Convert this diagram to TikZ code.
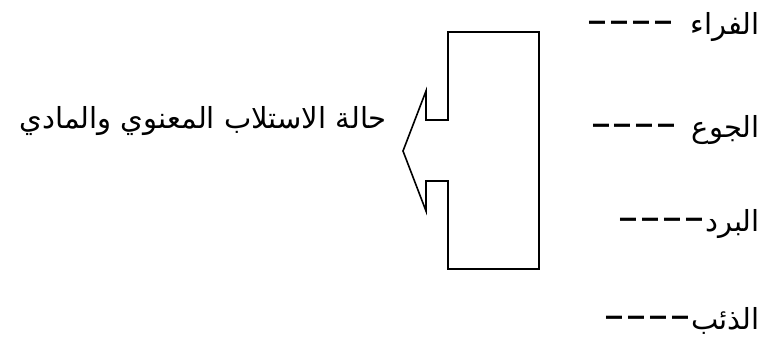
\documentclass[tikz,border=0pt]{standalone}
\usepackage{fontspec}
\newfontfamily\arabicfont[Script=Arabic]{DejaVu Sans}
\TeXXeTstate=1
\newcommand{\dsh}{\raisebox{1pt}{\scalebox{2.1}[1.35]{----}}}
\begin{document}
\begin{tikzpicture}[x=1pt,y=-1pt,
  lbl/.style={inner sep=0pt,font=\arabicfont\fontsize{29}{34}\selectfont},
  frame/.style={draw=black,line width=1.6pt,line join=miter}]
\useasboundingbox (0,0) rectangle (768,340);
\node[lbl,anchor=base east] (t1) at (760,34) {\dsh\hspace{16pt}\beginR الفراء\endR};
\node[lbl,anchor=base east] (t2) at (760,137) {\dsh\hspace{14pt}\beginR الجوع\endR};
\node[lbl,anchor=base east] (t3) at (760,231) {\dsh\beginR البرد\endR};
\node[lbl,anchor=base east] (t4) at (760,329) {\dsh\beginR الذئب\endR};
\node[lbl,anchor=base east] (main) at (387,128) {\beginR حالة الاستلاب المعنوي والمادي\endR};
\draw[frame] (448,32) -- (539,32) -- (539,269) -- (448,269) -- (448,181)
  -- (426,181) -- (426,211) -- (403,151) -- (426,91) -- (426,120) -- (448,120) -- cycle;
\end{tikzpicture}
\end{document}
